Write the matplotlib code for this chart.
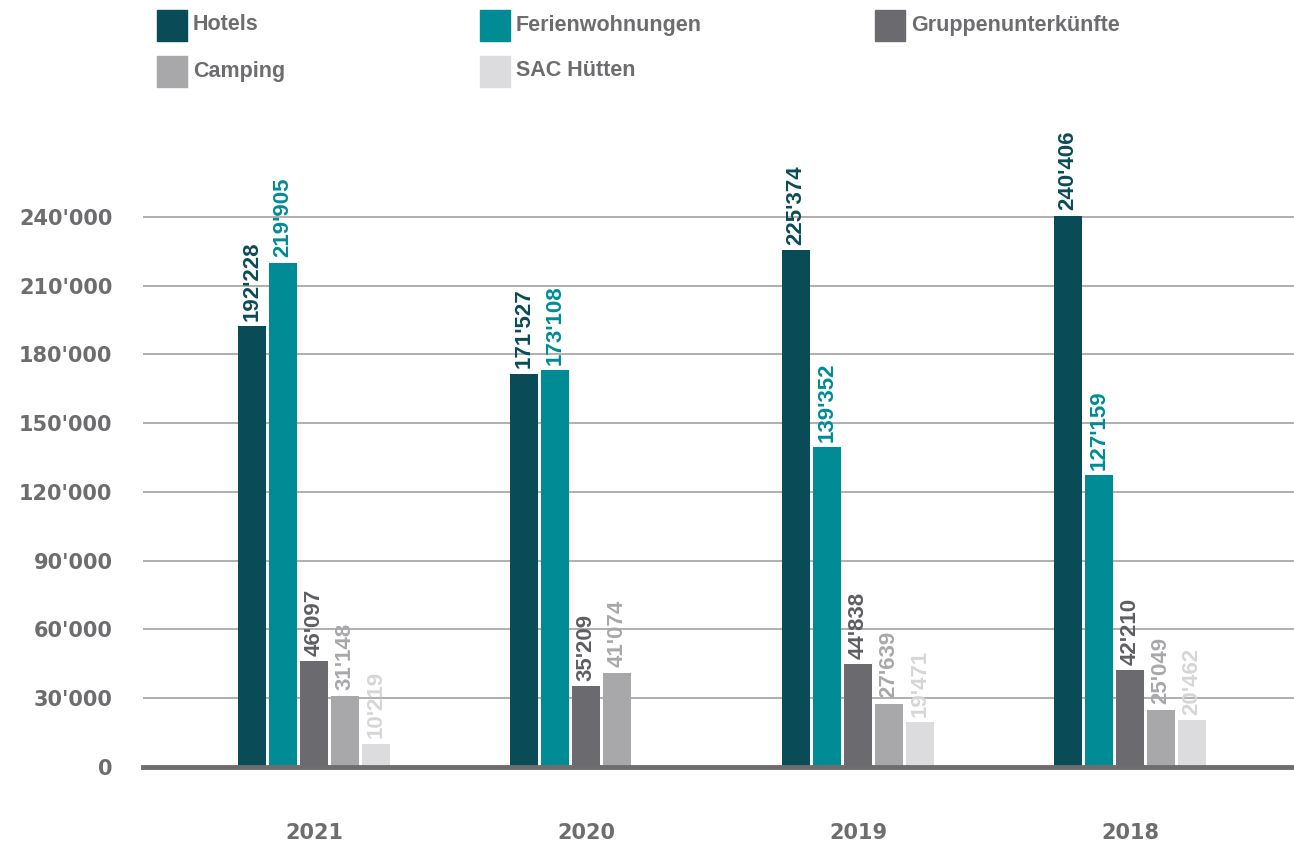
import matplotlib.pyplot as plt
from matplotlib.patches import Rectangle
from matplotlib import font_manager
import numpy as np

years = ['2021', '2020', '2019', '2018']
series = ['Hotels', 'Ferienwohnungen', 'Gruppenunterkünfte', 'Camping', 'SAC Hütten']
hotels = [192228, 171527, 225374, 240406]
ferien = [219905, 173108, 139352, 127159]
gruppen = [46097, 35209, 44838, 42210]
camping = [31148, 41074, 27639, 25049]
sac = [10219, np.nan, 19471, 20462]
yticks = [0, 30000, 60000, 90000, 120000, 150000, 180000, 210000, 240000]

colors = ['#0a4b58', '#008b95', '#6b6b6f', '#a8a8ab', '#dcdcde']
label_colors = ['#0a4b58', '#008b95', '#5e5e62', '#a8a8ab', '#d6d6d8']
grey = '#6d6d70'

names = {f.name for f in font_manager.fontManager.ttflist}
if 'Liberation Sans Narrow' in names:
    val_font, val_size = 'Liberation Sans Narrow', 19
else:
    val_font, val_size = 'Liberation Sans', 16


def fmt(v):
    return f"{int(v):,}".replace(",", "'")


fig = plt.figure(figsize=(12.94, 8.43), dpi=100)
ax = fig.add_axes([143 / 1294, 76 / 843, 1 - 143 / 1294, 642 / 843])

x = np.arange(len(years))
width = 0.103
step = 0.114
for i, vals in enumerate([hotels, ferien, gruppen, camping, sac]):
    pos = x + (i - 2) * step
    ax.bar(pos, vals, width=width, color=colors[i], zorder=3)
    for px, v in zip(pos, vals):
        if np.isnan(v):
            continue
        ax.annotate(fmt(v), (px, v), xytext=(0, 4), textcoords='offset points',
                    rotation=90, ha='center', va='bottom', color=label_colors[i],
                    fontsize=val_size, fontweight='bold', family=val_font)

ax.set_xlim(-0.629, 3.603)
ax.set_ylim(0, 280000)
ax.set_yticks(yticks)
ax.set_yticklabels([fmt(t) for t in yticks])
ax.set_xticks(x)
ax.set_xticklabels(years)
ax.tick_params(axis='both', length=0, colors=grey, labelsize=15)
ax.tick_params(axis='y', pad=22)
ax.tick_params(axis='x', pad=40)
for lab in ax.get_xticklabels() + ax.get_yticklabels():
    lab.set_fontweight('bold')
    lab.set_family('DejaVu Sans')
ax.grid(axis='y', color='#a9a9a9', lw=1.3, zorder=0)
for s in ax.spines.values():
    s.set_visible(False)
ax.axhline(0, color=grey, lw=3.5, zorder=4, clip_on=False)

# legend drawn by hand
leg_pos = [(157, 10), (480, 10), (875, 10), (157, 56), (480, 56)]
for (lx, ly), name, c in zip(leg_pos, series, colors):
    fig.add_artist(Rectangle((lx / 1294, 1 - (ly + 31) / 843), 30 / 1294, 31 / 843,
                             transform=fig.transFigure, color=c))
    fig.text((lx + 36) / 1294, 1 - (ly + 15) / 843, name, color=grey,
             fontsize=15.5, fontweight='bold', family='Liberation Sans', va='center')

fig.savefig('out.png', dpi=100)
